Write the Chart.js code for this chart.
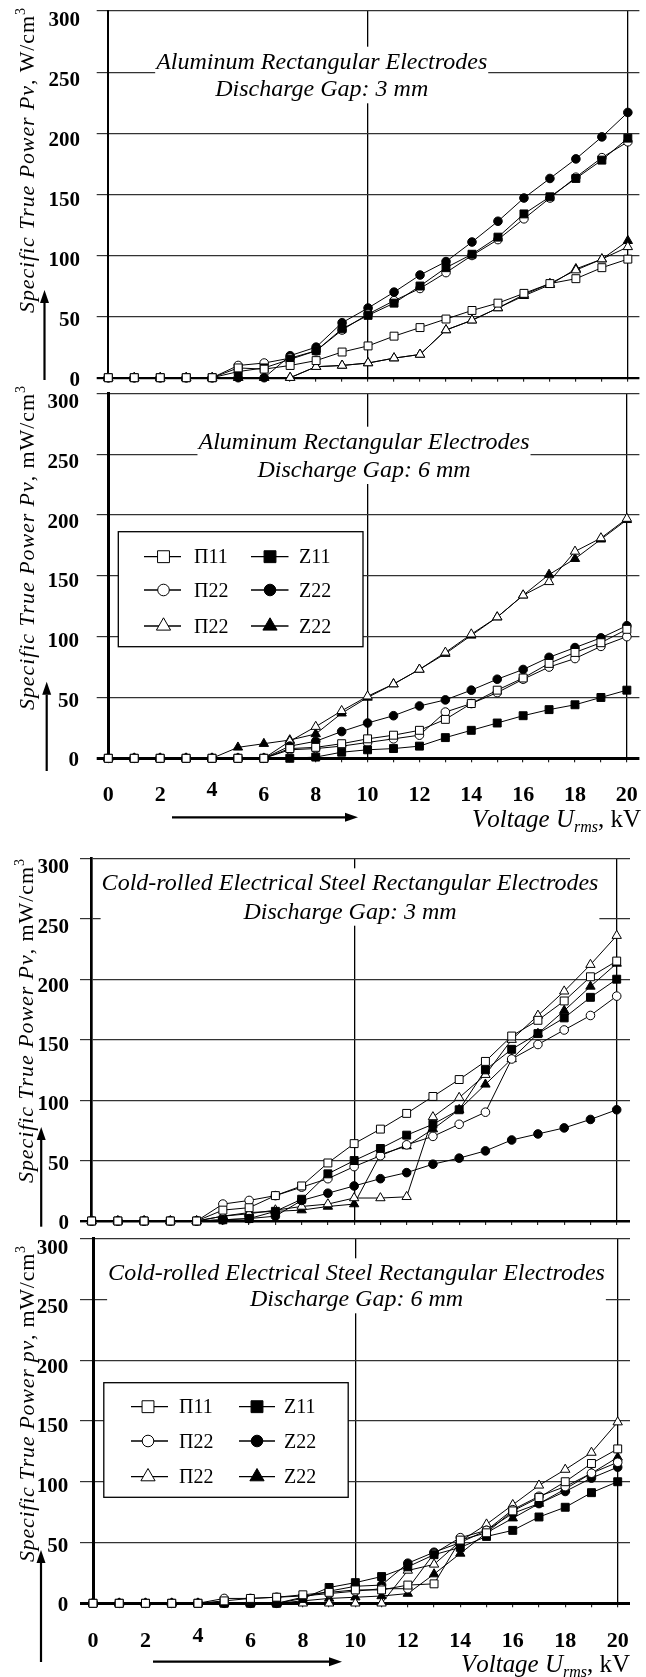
<!DOCTYPE html>
<html>
<head>
<meta charset="utf-8">
<script src="https://cdn.jsdelivr.net/npm/chart.js@4.4.1/dist/chart.umd.min.js"></script>
<style>
  html, body { margin: 0; padding: 0; background: #fff; }
  #page { position: relative; width: 646px; height: 1677px; overflow: hidden; background: #fff; }
  canvas { position: absolute; left: 0; }
</style>
</head>
<body>
<div id="page">
  <canvas id="c1" width="646" height="386"  style="top:0px"></canvas>
  <canvas id="c2" width="646" height="470"  style="top:376px"></canvas>
  <canvas id="c3" width="646" height="392"  style="top:840px"></canvas>
  <canvas id="c4" width="646" height="445"  style="top:1232px"></canvas>
</div>
<script>
// ── Dades llegides de la figura ─────────────────────────────────────────────
const voltage     = [0, 1, 2, 3, 4, 5, 6, 7, 8, 9, 10, 11, 12, 13, 14, 15, 16, 17, 18, 19, 20];
const yTickValues = [0, 50, 100, 150, 200, 250, 300];
const xTickValues = [0, 2, 4, 6, 8, 10, 12, 14, 16, 18, 20];
const seriesNames = ['Π11', 'Z11', 'Π22', 'Z22', 'Π22', 'Z22'];

// Alumini, 3 mm
const alu3_P11 = [0, 0, 0, 0, 0, 8, 7, 10, 14, 21, 26, 34, 41, 48, 55, 61, 69, 77, 81, 90, 97];
const alu3_Z11 = [0, 0, 0, 0, 0, 5, 8, 15, 22, 40, 51, 61, 75, 90, 101, 115, 134, 148, 163, 178, 196];
const alu3_P22 = [0, 0, 0, 0, 0, 10, 12, 16, 22, 39, 52, 63, 73, 86, 100, 113, 130, 147, 164, 180, 193];
const alu3_Z22 = [0, 0, 0, 0, 0, 0, 0, 18, 25, 45, 57, 70, 84, 95, 111, 128, 147, 163, 179, 197, 217];
const alu3_P33 = [0, 0, 0, 0, 0, 0, 0, 0, 9, 10, 12, 16, 19, 39, 47, 57, 68, 77, 88, 97, 107];
const alu3_Z33 = [0, 0, 0, 0, 0, 0, 0, 0, 9, 10, 12, 16, 19, 39, 47, 57, 67, 76, 89, 97, 112];

// Alumini, 6 mm
const alu6_P11 = [0, 0, 0, 0, 0, 0, 0, 8, 9, 12, 16, 19, 23, 32, 45, 56, 66, 78, 87, 95, 106];
const alu6_Z11 = [0, 0, 0, 0, 0, 0, 0, 0, 1, 5, 7, 8, 10, 17, 23, 29, 35, 40, 44, 50, 56];
const alu6_P22 = [0, 0, 0, 0, 0, 0, 0, 7, 8, 10, 13, 16, 19, 38, 45, 54, 65, 75, 82, 92, 100];
const alu6_Z22 = [0, 0, 0, 0, 0, 0, 0, 10, 14, 22, 29, 35, 43, 48, 56, 65, 73, 83, 91, 99, 109];
const alu6_P33 = [0, 0, 0, 0, 0, 0, 0, 14, 26, 39, 51, 61, 73, 87, 102, 116, 134, 145, 170, 181, 197];
const alu6_Z33 = [0, 0, 0, 0, 0, 9, 12, 15, 20, 37, 50, 61, 73, 86, 101, 116, 134, 151, 164, 180, 196];

// Acer laminat en fred, 3 mm
const st3_P11 = [0, 0, 0, 0, 0, 9, 11, 21, 29, 48, 64, 76, 89, 103, 117, 132, 153, 166, 182, 202, 215];
const st3_Z11 = [0, 0, 0, 0, 0, 1, 2, 8, 18, 39, 50, 60, 71, 80, 92, 125, 142, 155, 168, 185, 200];
const st3_P22 = [0, 0, 0, 0, 0, 14, 17, 21, 28, 35, 45, 54, 63, 70, 80, 90, 134, 146, 158, 170, 186];
const st3_Z22 = [0, 0, 0, 0, 0, 1, 2, 4, 17, 23, 29, 35, 40, 47, 52, 58, 67, 72, 77, 84, 92];
const st3_P33 = [0, 0, 0, 0, 0, 4, 6, 9, 12, 14, 19, 19, 20, 86, 102, 121, 150, 170, 190, 212, 236];
const st3_Z33 = [0, 0, 0, 0, 0, 4, 7, 8, 9, 12, 14, 55, 62, 76, 92, 113, 134, 155, 174, 194, 213];

// Acer laminat en fred, 6 mm
const st6_P11 = [0, 0, 0, 0, 0, 2, 4, 5, 7, 9, 11, 11, 15, 16, 52, 58, 76, 87, 100, 115, 127];
const st6_Z11 = [0, 0, 0, 0, 0, 0, 0, 0, 4, 13, 17, 22, 30, 40, 46, 55, 60, 71, 79, 91, 100];
const st6_P22 = [0, 0, 0, 0, 0, 4, 4, 5, 6, 8, 10, 12, 12, 41, 54, 60, 77, 88, 96, 107, 116];
const st6_Z22 = [0, 0, 0, 0, 0, 0, 0, 0, 5, 10, 14, 15, 33, 42, 50, 60, 74, 82, 92, 103, 112];
const st6_P33 = [0, 0, 0, 0, 0, 0, 0, 0, 0, 0, 0, 0, 27, 32, 51, 65, 81, 97, 110, 124, 149];
const st6_Z33 = [0, 0, 0, 0, 0, 0, 0, 0, 2, 4, 5, 6, 8, 24, 41, 58, 70, 82, 94, 107, 120];

// ── Estils ───────────────────────────────────────────────────────────────────
const SERIF = '"Liberation Serif", "Times New Roman", serif';
const MARKERS = [
  { shape: 'rect',     fill: '#fff', r: 5.6, lr: 8.4 },
  { shape: 'rect',     fill: '#000', r: 5.6, lr: 8.4 },
  { shape: 'circle',   fill: '#fff', r: 4.3, lr: 5.8 },
  { shape: 'circle',   fill: '#000', r: 4.3, lr: 5.8 },
  { shape: 'triangle', fill: '#fff', r: 5.4, lr: 8.2 },
  { shape: 'triangle', fill: '#000', r: 5.4, lr: 8.2 },
];

// Geometria de cada panell (coordenades de pàgina)
const PANELS = [
  { id: 'c1', top: 0, height: 386, left: 108.3, x20: 634.3, right: 646, yTop: 11, yBot: 377.7,
    gridStart: 96.7, labelRight: 80, zeroWidth: 2.2, axisWidth: 2,
    title: ['Aluminum Rectangular Electrodes', 'Discharge Gap: 3 mm'], titleX: 321.7, titleY: [61.7, 89.3],
    ylab: { p: 'P', unit: 'W/cm', x: 33.5, bottom: 313, top: 8 }, yArrow: [44.5, 380, 290],
    series: [alu3_P11, alu3_Z11, alu3_P22, alu3_Z22, alu3_P33, alu3_Z33] },
  { id: 'c2', top: 376, height: 470, left: 108.3, x20: 633.3, right: 646, yTop: 393.3, yBot: 758.3,
    gridStart: 96.7, labelRight: 79, zeroWidth: 3, axisWidth: 3,
    title: ['Aluminum Rectangular Electrodes', 'Discharge Gap: 6 mm'], titleX: 364, titleY: [441.7, 470],
    ylab: { p: 'P', unit: 'mW/cm', x: 33.5, bottom: 710, top: 386 }, yArrow: [46.7, 771, 681.7],
    xAxis: { labelY: 793.3, arrow: [172, 358, 817.3], voltLeft: 472, voltRight: 641, voltBase: 827 },
    legend: { box: [118.3, 531.7, 363, 646.7], rows: [556.7, 590, 626],
              cols: [{ l1: 144, l2: 181, m: 163.5, t: 194 }, { l1: 251, l2: 288.5, m: 270, t: 299 }] },
    series: [alu6_P11, alu6_Z11, alu6_P22, alu6_Z22, alu6_P33, alu6_Z33] },
  { id: 'c3', top: 840, height: 392, left: 91.6, x20: 616.7, right: 630, yTop: 858.3, yBot: 1221,
    gridStart: 80, labelRight: 69, zeroWidth: 2.4, axisWidth: 2.7,
    title: ['Cold-rolled Electrical Steel Rectangular Electrodes', 'Discharge Gap: 3 mm'], titleX: 350, titleY: [883.3, 911.7],
    ylab: { p: 'P', unit: 'mW/cm', x: 33, bottom: 1183, top: 859 }, yArrow: [41.2, 1226.7, 1127],
    series: [st3_P11, st3_Z11, st3_P22, st3_Z22, st3_P33, st3_Z33] },
  { id: 'c4', top: 1232, height: 445, left: 93, x20: 617.7, right: 630, yTop: 1238.3, yBot: 1603.3,
    gridStart: 80, labelRight: 68.3, zeroWidth: 3, axisWidth: 3,
    title: ['Cold-rolled Electrical Steel Rectangular Electrodes', 'Discharge Gap: 6 mm'], titleX: 356.5, titleY: [1273.3, 1299.3],
    ylab: { p: 'p', unit: 'mW/cm', x: 33.5, bottom: 1562, top: 1246 }, yArrow: [41, 1662, 1550],
    xAxis: { labelY: 1639.3, arrow: [153, 342, 1661.7], voltLeft: 461, voltRight: 630, voltBase: 1672 },
    legend: { box: [103.8, 1382.7, 348.2, 1497.3], rows: [1406.7, 1441, 1476.7],
              cols: [{ l1: 131, l2: 168, m: 148, t: 179 }, { l1: 239, l2: 275, m: 257, t: 284 }] },
    series: [st6_P11, st6_Z11, st6_P22, st6_Z22, st6_P33, st6_Z33] },
];

// ── Helpers de dibuix ────────────────────────────────────────────────────────
function drawSegs(ctx, segs, x, y, spacing) {
  let cx = x;
  segs.forEach(s => {
    ctx.font = s.font;
    for (const ch of s.text) {
      ctx.fillText(ch, cx, y + (s.dy || 0));
      cx += ctx.measureText(ch).width + spacing;
    }
  });
}

function segsWidth(ctx, segs) {
  let w = 0, n = 0;
  segs.forEach(s => {
    ctx.font = s.font;
    for (const ch of s.text) { w += ctx.measureText(ch).width; n++; }
  });
  return { w, n };
}

function arrow(ctx, x1, y1, x2, y2) {
  const ang = Math.atan2(y2 - y1, x2 - x1);
  const len = 13, half = 4.5;
  ctx.beginPath();
  ctx.moveTo(x1, y1);
  ctx.lineTo(x2 - Math.cos(ang) * len, y2 - Math.sin(ang) * len);
  ctx.lineWidth = 2.2;
  ctx.strokeStyle = '#000';
  ctx.stroke();
  ctx.beginPath();
  ctx.moveTo(x2, y2);
  ctx.lineTo(x2 - Math.cos(ang) * len - Math.sin(ang) * half, y2 - Math.sin(ang) * len + Math.cos(ang) * half);
  ctx.lineTo(x2 - Math.cos(ang) * len + Math.sin(ang) * half, y2 - Math.sin(ang) * len - Math.cos(ang) * half);
  ctx.closePath();
  ctx.fillStyle = '#000';
  ctx.fill();
}

// ── Plugin: títol, etiquetes, fletxes, llegenda ──────────────────────────────
const decor = {
  id: 'decor',
  beforeDatasetsDraw(chart, args, p) {
    const ctx = chart.ctx;
    ctx.save();
    ctx.font = 'italic 24px ' + SERIF;
    const w1 = ctx.measureText(p.title[0]).width;
    const y1 = p.titleY[0] - p.top, y2 = p.titleY[1] - p.top;
    ctx.fillStyle = '#fff';
    ctx.fillRect(p.titleX - w1 / 2 - 1, y1 - 15, w1 + 2, y2 - y1 + 29);
    ctx.fillStyle = '#000';
    ctx.textAlign = 'center';
    ctx.textBaseline = 'alphabetic';
    ctx.fillText(p.title[0], p.titleX, y1 + 7);
    ctx.fillText(p.title[1], p.titleX, y2 + 7);
    ctx.restore();
  },
  afterDraw(chart, args, p) {
    const ctx = chart.ctx;
    const xs = chart.scales.x, ys = chart.scales.y;
    ctx.save();
    ctx.fillStyle = '#000';
    ctx.textBaseline = 'alphabetic';

    // Etiquetes de l'eix Y (lleugerament desplaçades cap avall com a l'original)
    ctx.font = 'bold 21px ' + SERIF;
    ctx.textAlign = 'right';
    yTickValues.forEach(v => {
      const cy = ys.getPixelForValue(v) + 1 + v * 0.024;
      ctx.fillText(String(v), p.labelRight, cy + 6.9);
    });

    // Etiquetes de l'eix X i títol de l'eix (només panells inferiors)
    if (p.xAxis) {
      ctx.font = 'bold 22px ' + SERIF;
      ctx.textAlign = 'center';
      xTickValues.forEach(v => {
        const cy = p.xAxis.labelY - p.top - (v === 4 ? 5 : 0);
        ctx.fillText(String(v), xs.getPixelForValue(v), cy + 7.3);
      });
      ctx.textAlign = 'left';
      const vsegs = [
        { text: 'Voltage U', font: 'italic 25px ' + SERIF },
        { text: 'rms', font: 'italic 16px ' + SERIF, dy: 5 },
        { text: ', kV', font: '25px ' + SERIF },
      ];
      const vm = segsWidth(ctx, vsegs);
      const vsp = (p.xAxis.voltRight - p.xAxis.voltLeft - vm.w) / (vm.n - 1);
      drawSegs(ctx, vsegs, p.xAxis.voltLeft, p.xAxis.voltBase - p.top, vsp);
      const a = p.xAxis.arrow;
      arrow(ctx, a[0], a[2] - p.top, a[1], a[2] - p.top);
    }

    // Títol de l'eix Y, girat
    const ysegs = [
      { text: 'Specific True Power ' + p.ylab.p + 'v', font: 'italic 22px ' + SERIF },
      { text: ', ' + p.ylab.unit, font: '22px ' + SERIF },
      { text: '3', font: '14px ' + SERIF, dy: -9 },
    ];
    const m = segsWidth(ctx, ysegs);
    const spacing = (p.ylab.bottom - p.ylab.top - m.w) / (m.n - 1);
    ctx.save();
    ctx.textAlign = 'left';
    ctx.translate(p.ylab.x, p.ylab.bottom - p.top);
    ctx.rotate(-Math.PI / 2);
    drawSegs(ctx, ysegs, 0, 0, spacing);
    ctx.restore();

    // Fletxa vertical
    arrow(ctx, p.yArrow[0], p.yArrow[1] - p.top, p.yArrow[0], p.yArrow[2] - p.top);

    // Llegenda
    if (p.legend) {
      const L = p.legend;
      const bx = L.box;
      ctx.fillStyle = '#fff';
      ctx.fillRect(bx[0], bx[1] - p.top, bx[2] - bx[0], bx[3] - bx[1]);
      ctx.strokeStyle = '#000';
      ctx.lineWidth = 1.3;
      ctx.strokeRect(bx[0], bx[1] - p.top, bx[2] - bx[0], bx[3] - bx[1]);
      ctx.textAlign = 'left';
      chart.data.datasets.forEach((ds, i) => {
        const col = L.cols[i % 2];
        const y = L.rows[Math.floor(i / 2)] - p.top;
        ctx.beginPath();
        ctx.moveTo(col.l1, y);
        ctx.lineTo(col.l2, y);
        ctx.strokeStyle = '#000';
        ctx.lineWidth = 1.3;
        ctx.stroke();
        ctx.fillStyle = MARKERS[i].fill;
        ctx.lineWidth = 1;
        Chart.helpers.drawPoint(ctx, { pointStyle: MARKERS[i].shape, radius: MARKERS[i].lr, borderWidth: 1, rotation: 0 }, col.m, y);
        ctx.fillStyle = '#000';
        ctx.font = '20px ' + SERIF;
        ctx.fillText(ds.label, col.t, y + 6.6);
      });
    }
    ctx.restore();
  }
};

// ── Construcció de cada panell ───────────────────────────────────────────────
function makePanel(p) {
  const pxPerKv = (p.x20 - p.left) / 20;
  const xMax = 20 + (p.right - p.x20) / pxPerKv;
  const chartTop = p.yTop - p.top;
  const chartBottom = p.yBot - p.top;

  return new Chart(document.getElementById(p.id), {
    type: 'line',
    data: {
      datasets: p.series.map((vals, i) => ({
        label: seriesNames[i],
        data: voltage.map((v, k) => ({ x: v, y: vals[k] })),
        borderColor: '#000',
        borderWidth: 1,
        pointStyle: MARKERS[i].shape,
        pointRadius: MARKERS[i].r,
        pointBackgroundColor: MARKERS[i].fill,
        pointBorderColor: '#000',
        pointBorderWidth: 1,
        tension: 0,
        fill: false,
        clip: false,
      }))
    },
    options: {
      responsive: false,
      animation: false,
      events: [],
      layout: { padding: { left: 0, top: chartTop, right: 646 - p.right, bottom: 0 } },
      plugins: { legend: { display: false }, tooltip: { enabled: false }, decor: p },
      scales: {
        x: {
          type: 'linear', min: 0, max: xMax,
          afterFit: s => { s.height = p.height - chartBottom; },
          ticks: { display: false, stepSize: 1, includeBounds: false },
          grid: {
            color: c => (c.tick && (c.tick.value === 10 || c.tick.value === 20)) ? '#000' : 'rgba(0,0,0,0)',
            lineWidth: 1.3,
            tickColor: '#000',
            tickWidth: 1,
            tickLength: 4,
          },
          border: { display: false },
        },
        y: {
          type: 'linear', min: 0, max: 300,
          afterFit: s => { s.width = p.left; },
          ticks: { display: false, stepSize: 50 },
          grid: {
            color: c => (c.tick && c.tick.value === 0) ? '#000' : '#333',
            lineWidth: c => (c.tick && c.tick.value === 0) ? p.zeroWidth : 1.2,
            tickLength: p.left - p.gridStart,
          },
          border: { display: true, color: '#000', width: p.axisWidth },
        }
      }
    },
    plugins: [decor]
  });
}

PANELS.forEach(makePanel);
</script>
</body>
</html>
